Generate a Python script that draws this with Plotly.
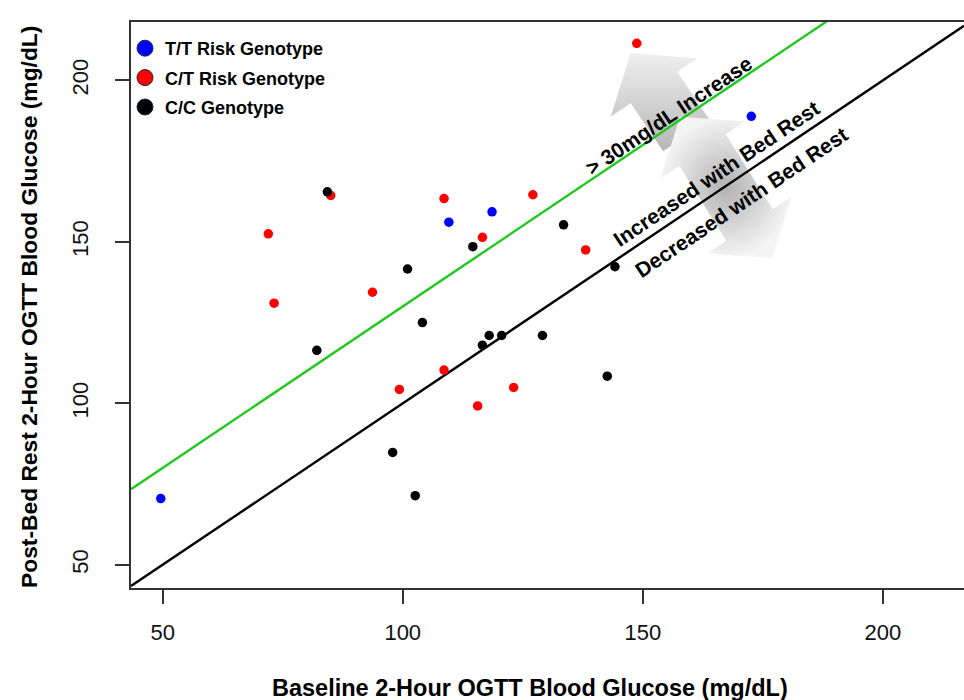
import math
import plotly.graph_objects as go

# ---------------- data ----------------
group_names = ["T/T Risk Genotype", "C/T Risk Genotype", "C/C Genotype"]
group_colors = ["#0000ff", "#ff0000", "#000000"]

tt_baseline = [49.6, 109.6, 118.6, 172.6]
tt_post = [70.5, 156.1, 159.3, 188.9]

ct_baseline = [148.75, 72.0, 73.2, 85.0, 108.6, 127.1, 116.6, 93.7, 138.1,
               99.3, 108.6, 115.6, 123.1]
ct_post = [211.5, 152.5, 131.0, 164.4, 163.4, 164.6, 151.4, 134.4, 147.5,
           104.3, 110.3, 99.2, 104.9]

cc_baseline = [84.3, 114.6, 133.5, 101.0, 82.1, 104.1, 116.6, 118.0, 120.6,
               129.1, 144.2, 142.6, 97.9, 102.6]
cc_post = [165.5, 148.5, 155.3, 141.6, 116.4, 125.0, 118.0, 121.0, 121.0,
           121.0, 142.3, 108.4, 84.8, 71.4]

line_offsets = [0, 30]            # identity line, +30 mg/dL threshold
line_colors = ["#000000", "#1ec81e"]
x_ticks = [50, 100, 150, 200]
y_ticks = [50, 100, 150, 200]
region_labels = ["> 30mg/dL Increase", "Increased with Bed Rest",
                 "Decreased with Bed Rest"]

# ---------------- layout geometry ----------------
FW, FH = 964, 700
ML, MT, MR, MB = 131, 22, 0, 112
PW, PH = FW - ML - MR, FH - MT - MB
X_RANGE = [43.4, 216.9]
Y_RANGE = [42.8, 218.1]
FONT = "Liberation Sans, Arial, Helvetica, sans-serif"


def px_to_data(px, py):
    x = X_RANGE[0] + (px - ML) / PW * (X_RANGE[1] - X_RANGE[0])
    y = Y_RANGE[1] - (py - MT) / PH * (Y_RANGE[1] - Y_RANGE[0])
    return x, y


# direction perpendicular to the y=x lines in screen pixels (down-right)
ang = math.atan((PH / (Y_RANGE[1] - Y_RANGE[0])) / (PW / (X_RANGE[1] - X_RANGE[0])))
D = (math.sin(ang), math.cos(ang))
N = (D[1], -D[0])
ANGLE_DEG = math.degrees(ang)


def pt(base, a, b):
    return (base[0] + a * D[0] + b * N[0], base[1] + a * D[1] + b * N[1])


def single_arrow(base, hw, hl, sw, tail):
    pts = [pt(base, -hl, 0), pt(base, 0, hw / 2), pt(base, 0, sw / 2),
           pt(base, tail, sw / 2), pt(base, tail, -sw / 2),
           pt(base, 0, -sw / 2), pt(base, 0, -hw / 2), pt(base, -hl, 0)]
    return [px_to_data(*p) for p in pts]


def double_arrow(b1, b2, hw, hl, sw):
    pts = [pt(b1, -hl, 0), pt(b1, 0, hw / 2), pt(b1, 0, sw / 2),
           pt(b2, 0, sw / 2), pt(b2, 0, hw / 2), pt(b2, hl, 0),
           pt(b2, 0, -hw / 2), pt(b2, 0, -sw / 2), pt(b1, 0, -sw / 2),
           pt(b1, 0, -hw / 2), pt(b1, -hl, 0)]
    return [px_to_data(*p) for p in pts]


fig = go.Figure()

# decorative gray block arrows
a1 = single_arrow((654, 87.5), 104, 42, 56, 58)
fig.add_trace(go.Scatter(
    x=[p[0] for p in a1], y=[p[1] for p in a1], mode="lines", fill="toself",
    line=dict(width=0), fillgradient=dict(type="vertical",
                                          colorscale=[[0, "#b6b6b6"], [1, "#f0f0f0"]]),
    hoverinfo="skip", showlegend=False))
a2 = double_arrow((702.5, 150), (749.5, 225), 102, 40, 56)
fig.add_trace(go.Scatter(
    x=[p[0] for p in a2], y=[p[1] for p in a2], mode="lines", fill="toself",
    line=dict(width=0), fillgradient=dict(type="radial",
                                          colorscale=[[0, "#b2b2b2"], [1, "#f4f4f4"]]),
    hoverinfo="skip", showlegend=False))

# reference lines
for off, col in zip(line_offsets, line_colors):
    fig.add_trace(go.Scatter(
        x=X_RANGE, y=[X_RANGE[0] + off, X_RANGE[1] + off], mode="lines",
        line=dict(color=col, width=2.4), hoverinfo="skip", showlegend=False))

# data points
series = [(tt_baseline, tt_post), (ct_baseline, ct_post), (cc_baseline, cc_post)]
for (xs, ys), name, col in zip(series, group_names, group_colors):
    fig.add_trace(go.Scatter(
        x=xs, y=ys, mode="markers", name=name, showlegend=False,
        marker=dict(color=col, size=9.5, line=dict(width=0))))

# legend entries (larger symbols, as in the reference)
for i, (name, col) in enumerate(zip(group_names, group_colors)):
    fig.add_trace(go.Scatter(
        x=[None], y=[None], mode="markers", name=name, legendgroup=str(i),
        marker=dict(color=col, size=16, line=dict(color="#1a2a3a", width=1))))

# region labels along the lines
label_centers = [(668.5, 115), (716.5, 173.5), (741, 202.5)]
for txt, c in zip(region_labels, label_centers):
    x, y = px_to_data(*c)
    fig.add_annotation(x=x, y=y, text=txt, showarrow=False, textangle=-ANGLE_DEG,
                       xanchor="center", yanchor="middle",
                       font=dict(family=FONT, size=21, color="#000000", weight="bold"))

# axis titles
fig.add_annotation(xref="paper", yref="paper", x=(530 - ML) / PW, y=(MT + PH - 688) / PH,
                   text="Baseline 2-Hour OGTT Blood Glucose (mg/dL)", showarrow=False,
                   xanchor="center", yanchor="middle",
                   font=dict(family=FONT, size=23.5, color="#000000", weight="bold"))
fig.add_annotation(xref="paper", yref="paper", x=(29 - ML) / PW, y=(MT + PH - 307) / PH,
                   text="Post-Bed Rest 2-Hour OGTT Blood Glucose (mg/dL)", showarrow=False,
                   textangle=-90, xanchor="center", yanchor="middle",
                   font=dict(family=FONT, size=22.8, color="#000000", weight="bold"))

axis_common = dict(showgrid=False, zeroline=False, showline=True, linecolor="#333333",
                   linewidth=1.5, ticks="outside", ticklen=14, tickwidth=1.5,
                   tickcolor="#333333",
                   tickfont=dict(family=FONT, size=22, color="#111111"))
fig.update_xaxes(range=X_RANGE, tickvals=x_ticks, mirror=True, ticklabelstandoff=10,
                 **axis_common)
fig.update_yaxes(range=Y_RANGE, tickvals=y_ticks, mirror=False, tickangle=-90,
                 ticklabelstandoff=18, **axis_common)

fig.update_layout(
    width=FW, height=FH,
    margin=dict(l=ML, r=MR, t=MT, b=MB),
    paper_bgcolor="white", plot_bgcolor="white",
    legend=dict(x=(125 - ML) / PW, y=1 - (30 - MT) / PH, xanchor="left", yanchor="top",
                bgcolor="rgba(0,0,0,0)", tracegroupgap=3,
                font=dict(family=FONT, size=18, color="#000000", weight="bold")),
)

fig.write_html("out.html", config={"displayModeBar": False},
               post_script="document.body.style.margin='0';"
                           "document.body.style.overflow='hidden';")
